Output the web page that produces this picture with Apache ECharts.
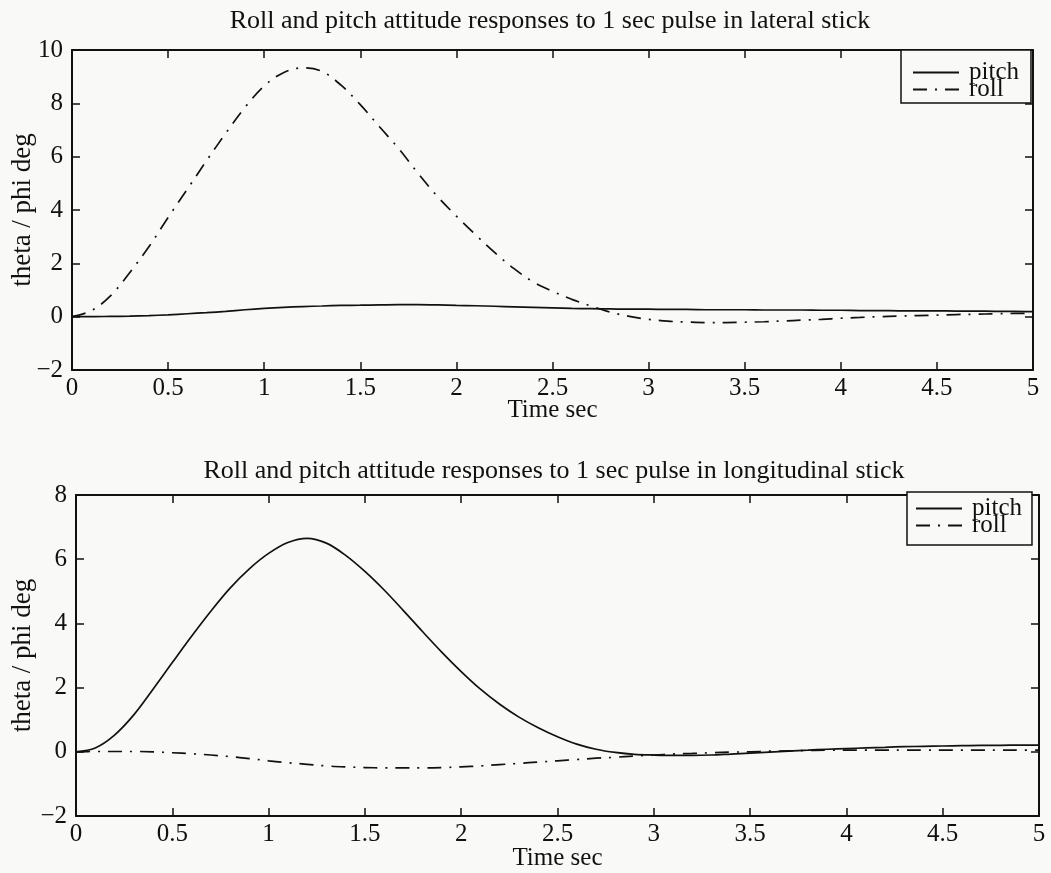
<!DOCTYPE html>
<html>
<head>
<meta charset="utf-8">
<title>Roll and pitch attitude responses</title>
<script src="https://cdn.jsdelivr.net/npm/echarts@6/dist/echarts.min.js"></script>
<style>
  html, body { margin: 0; padding: 0; background: #f9f9f7; }
  #chart { width: 1051px; height: 873px; }
</style>
</head>
<body>
<div id="chart"></div>
<script>
// Time base shared by every trace (s)
const time = [
  0.0, 0.1, 0.2, 0.3, 0.4, 0.5, 0.6, 0.7, 0.8, 0.9,
  1.0, 1.1, 1.2, 1.3, 1.4, 1.5, 1.6, 1.7, 1.8, 1.9,
  2.0, 2.1, 2.2, 2.3, 2.4, 2.5, 2.6, 2.7, 2.8, 2.9,
  3.0, 3.1, 3.2, 3.3, 3.4, 3.5, 3.6, 3.7, 3.8, 3.9,
  4.0, 4.1, 4.2, 4.3, 4.4, 4.5, 4.6, 4.7, 4.8, 4.9, 5.0
];

// Lateral stick pulse (deg)
const latPitch = [
  0, 0, 0.01, 0.02, 0.04, 0.07, 0.11, 0.15, 0.2, 0.26,
  0.31, 0.35, 0.38, 0.4, 0.42, 0.43, 0.44, 0.45, 0.45, 0.44,
  0.42, 0.41, 0.39, 0.37, 0.35, 0.33, 0.31, 0.3, 0.29, 0.28,
  0.28, 0.27, 0.27, 0.26, 0.26, 0.26, 0.25, 0.25, 0.25, 0.24,
  0.24, 0.23, 0.23, 0.22, 0.22, 0.22, 0.21, 0.21, 0.2, 0.2, 0.19
];
const latRoll = [
  0, 0.22, 0.78, 1.65, 2.62, 3.72, 4.78, 5.85, 6.88, 7.85,
  8.65, 9.15, 9.33, 9.2, 8.68, 7.95, 7.12, 6.3, 5.38, 4.52,
  3.77, 3.07, 2.4, 1.8, 1.3, 0.95, 0.65, 0.4, 0.17, 0.01,
  -0.1, -0.17, -0.2, -0.22, -0.22, -0.21, -0.19, -0.16, -0.13, -0.1,
  -0.06, -0.03, 0.0, 0.02, 0.04, 0.06, 0.08, 0.09, 0.11, 0.12, 0.13
];

// Longitudinal stick pulse (deg)
const lonPitch = [
  0, 0.12, 0.52, 1.15, 1.95, 2.78, 3.6, 4.38, 5.1, 5.7,
  6.18, 6.52, 6.65, 6.5, 6.12, 5.62, 5.04, 4.4, 3.74, 3.1,
  2.5, 1.95, 1.48, 1.08, 0.75, 0.47, 0.24, 0.08, -0.02, -0.08,
  -0.1, -0.11, -0.11, -0.1, -0.07, -0.04, -0.01, 0.02, 0.05, 0.08,
  0.1, 0.12, 0.14, 0.16, 0.17, 0.18, 0.19, 0.2, 0.2, 0.21, 0.21
];
const lonRoll = [
  0, 0.01, 0.01, 0.01, 0.0, -0.03, -0.06, -0.1, -0.15, -0.21,
  -0.28, -0.34, -0.39, -0.44, -0.47, -0.49, -0.5, -0.5, -0.5, -0.49,
  -0.47, -0.44, -0.4, -0.36, -0.32, -0.28, -0.24, -0.2, -0.17, -0.13,
  -0.1, -0.07, -0.05, -0.03, -0.01, 0.0, 0.02, 0.03, 0.04, 0.05,
  0.05, 0.05, 0.05, 0.05, 0.05, 0.05, 0.05, 0.05, 0.05, 0.05, 0.05
];

const titles = [
  'Roll and pitch attitude responses to 1 sec pulse in lateral stick',
  'Roll and pitch attitude responses to 1 sec pulse in longitudinal stick'
];
const xName = 'Time sec';
const yName = 'theta / phi deg';
const seriesNames = ['pitch', 'roll'];

const INK = '#111';
const BG = '#f9f9f7';
const FONT = 'Liberation Serif';
const DASH_DOT = [14, 8, 2, 8];

const pairs = (ys) => time.map((t, i) => [t, ys[i]]);
const minusSign = (v) => String(v).replace('-', '\u2212');

function xAxes(gridIndex, nameGap) {
  const common = {
    gridIndex, type: 'value', min: 0, max: 5, interval: 0.5,
    axisLine: { show: true, onZero: false, lineStyle: { color: INK, width: 2 } },
    axisTick: { show: true, inside: true, length: 8, lineStyle: { color: INK, width: 1.5 } },
    splitLine: { show: false }
  };
  return [
    Object.assign({}, common, {
      position: 'bottom',
      name: xName, nameLocation: 'middle', nameGap, nameMoveOverlap: false,
      nameTextStyle: { fontFamily: FONT, fontSize: 25, color: INK },
      axisLabel: { fontFamily: FONT, fontSize: 25, color: INK, margin: 6, formatter: minusSign }
    }),
    Object.assign({}, common, { position: 'top', axisLabel: { show: false } })
  ];
}

function yAxes(gridIndex, min, max, nameGap) {
  const common = {
    gridIndex, type: 'value', min, max, interval: 2,
    axisLine: { show: true, onZero: false, lineStyle: { color: INK, width: 2 } },
    axisTick: { show: true, inside: true, length: 8, lineStyle: { color: INK, width: 1.5 } },
    splitLine: { show: false }
  };
  return [
    Object.assign({}, common, {
      position: 'left',
      name: yName, nameLocation: 'middle', nameRotate: 90, nameGap, nameMoveOverlap: false,
      nameTextStyle: { fontFamily: FONT, fontSize: 27, color: INK },
      axisLabel: { fontFamily: FONT, fontSize: 25, color: INK, margin: 9, formatter: minusSign }
    }),
    Object.assign({}, common, { position: 'right', axisLabel: { show: false } })
  ];
}

function legend(left, top, padding) {
  return {
    orient: 'vertical', left, top,
    data: seriesNames,
    itemWidth: 46, itemHeight: 14, itemGap: -8,
    padding,
    backgroundColor: BG,
    borderColor: INK, borderWidth: 1.5,
    itemStyle: { opacity: 0 },
    textStyle: { fontFamily: FONT, fontSize: 25, color: INK, lineHeight: 17, padding: [0, 0, 0, 5] },
    selectedMode: false
  };
}

function lineSeries(name, xi, yi, ys, dashed) {
  return {
    name, type: 'line', xAxisIndex: xi, yAxisIndex: yi,
    data: pairs(ys), symbol: 'none', showSymbol: false, smooth: 0.35,
    lineStyle: { color: INK, width: 1.7, type: dashed ? DASH_DOT : 'solid' },
    itemStyle: { color: INK },
    animation: false, silent: true
  };
}

const chart = echarts.init(document.getElementById('chart'), null, { renderer: 'canvas' });
chart.setOption({
  backgroundColor: BG,
  animation: false,
  title: [
    { text: titles[0], left: 545, top: 3, textAlign: 'center',
      textStyle: { fontFamily: FONT, fontSize: 26, fontWeight: 'normal', color: INK } },
    { text: titles[1], left: 549, top: 453, textAlign: 'center',
      textStyle: { fontFamily: FONT, fontSize: 26, fontWeight: 'normal', color: INK } }
  ],
  legend: [
    legend(901, 50, [10, 12, 1, 11]),
    legend(907, 492, [4, 10, 7, 8])
  ],
  grid: [
    { left: 72, right: 18, top: 50, height: 320, outerBoundsMode: 'none' },
    { left: 76, right: 12, top: 495, height: 321, outerBoundsMode: 'none' }
  ],
  xAxis: [].concat(xAxes(0, 28), xAxes(1, 30)),
  yAxis: [].concat(yAxes(0, -2, 10, 36), yAxes(1, -2, 8, 40)),
  series: [
    lineSeries('pitch', 0, 0, latPitch, false),
    lineSeries('roll', 0, 0, latRoll, true),
    lineSeries('pitch', 2, 2, lonPitch, false),
    lineSeries('roll', 2, 2, lonRoll, true)
  ]
});
</script>
</body>
</html>
